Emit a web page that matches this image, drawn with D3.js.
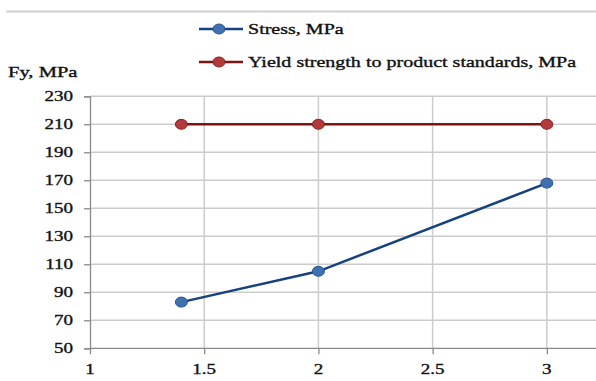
<!DOCTYPE html>
<html><head><meta charset="utf-8">
<script src="https://cdn.jsdelivr.net/npm/d3@7"></script>
<style>body{margin:0;background:#fff}svg{display:block}</style>
</head><body>
<svg id="c" width="596" height="381"></svg>
<script>
const xValues = [1.4, 2, 3];
const stressValues = [83, 105, 168];
const yieldValues = [210, 210, 210];
const xTicks = [1, 1.5, 2, 2.5, 3];
const yTicks = [50, 70, 90, 110, 130, 150, 170, 190, 210, 230];
const seriesNames = ["Stress, MPa", "Yield strength to product standards, MPa"];
const yLabel = "Fy, MPa";

const svg = d3.select("#c");
const font = "'Liberation Serif','Times New Roman',serif";
const x = d3.scaleLinear().domain([1, 3.2]).range([90, 592.5]);
const y = d3.scaleLinear().domain([50, 230]).range([348.3, 96.3]);

// top rule
svg.append("line").attr("x1", 6).attr("x2", 596).attr("y1", 11.5).attr("y2", 11.5)
  .attr("stroke", "#d0d0d0").attr("stroke-width", 2);

// grid
svg.append("g").selectAll("line").data(yTicks.slice(1)).join("line")
  .attr("x1", 90).attr("x2", 596).attr("y1", d => y(d)).attr("y2", d => y(d))
  .attr("stroke", "#cccccc").attr("stroke-width", 1.5);
svg.append("g").selectAll("line").data(xTicks.slice(1)).join("line")
  .attr("x1", d => x(d)).attr("x2", d => x(d)).attr("y1", y(230)).attr("y2", y(50))
  .attr("stroke", "#cccccc").attr("stroke-width", 1.5);

// axes
const yAxis = svg.append("g").attr("transform", "translate(90,0)")
  .call(d3.axisLeft(y).tickValues(yTicks).tickSize(6).tickFormat(""));
const xAxis = svg.append("g").attr("transform", `translate(0,${y(50)})`)
  .call(d3.axisBottom(x).tickValues(xTicks).tickSize(6).tickFormat(""));
[yAxis, xAxis].forEach(a => {
  a.select(".domain").attr("stroke", "#8a8a8a").attr("stroke-width", 1.3);
  a.selectAll(".tick line").attr("stroke", "#8a8a8a").attr("stroke-width", 1.3);
});
xAxis.select(".domain").attr("d", `M90,0H596`);

function stext(xp, yp, str, anchor, size, sx) {
  return svg.append("text")
    .attr("transform", `translate(${xp},${yp}) scale(${sx},1)`)
    .attr("text-anchor", anchor).attr("dominant-baseline", "central")
    .attr("font-family", font).attr("font-size", size).attr("fill", "#111")
    .attr("stroke", "#111").attr("stroke-width", 0.35)
    .text(str);
}
yTicks.forEach(v => stext(73, y(v), String(v), "end", 15, 1.27));
xTicks.forEach(v => stext(x(v), 369, String(v), "middle", 15, 1.27));
stext(8, 72, yLabel, "start", 15, 1.37);

// series
const series = [
  {vals: stressValues, line: "#17427e", fill: "#3f70b0", stroke: "#2a5590"},
  {vals: yieldValues, line: "#7a1414", fill: "#b23a3a", stroke: "#8a2222"}
];
const lineGen = d3.line().x(d => x(d[0])).y(d => y(d[1]));
series.forEach(s => {
  const pts = xValues.map((v, i) => [v, s.vals[i]]);
  svg.append("path").attr("d", lineGen(pts)).attr("fill", "none")
    .attr("stroke", s.line).attr("stroke-width", 2.5);
  svg.append("g").selectAll("ellipse").data(pts).join("ellipse")
    .attr("cx", d => x(d[0])).attr("cy", d => y(d[1])).attr("rx", 6).attr("ry", 5)
    .attr("fill", s.fill).attr("stroke", s.stroke).attr("stroke-width", 1);
});

// legend
const legY = [29, 62];
series.forEach((s, i) => {
  svg.append("line").attr("x1", 199).attr("x2", 243).attr("y1", legY[i]).attr("y2", legY[i])
    .attr("stroke", s.line).attr("stroke-width", 2.5);
  svg.append("ellipse").attr("cx", 219).attr("cy", legY[i]).attr("rx", 6).attr("ry", 5)
    .attr("fill", s.fill).attr("stroke", s.stroke);
  stext(248, legY[i], seriesNames[i], "start", 15, 1.335);
});
</script>
</body></html>
